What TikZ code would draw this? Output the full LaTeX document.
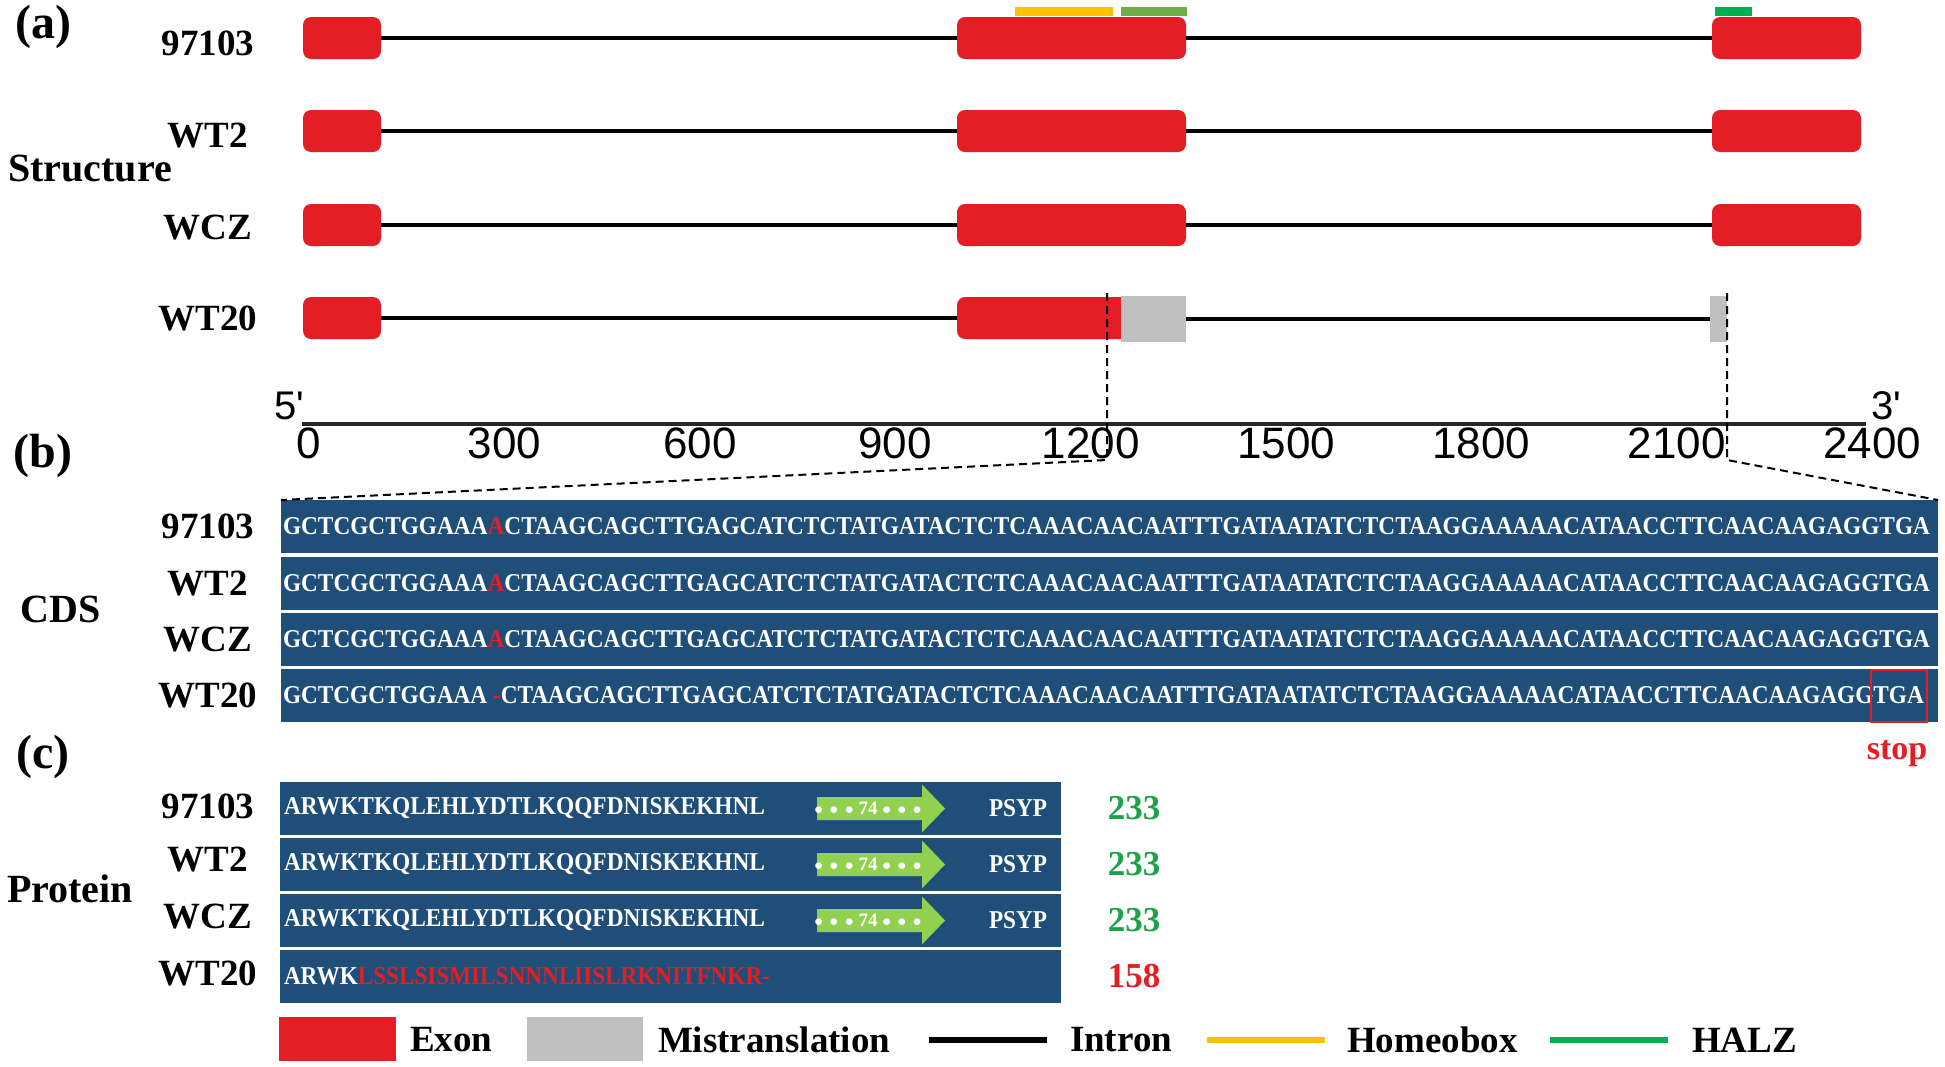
\documentclass[tikz,border=0pt]{standalone}
\usepackage{fontspec}
\setmainfont{Liberation Serif}
\newfontfamily\arialf{Liberation Sans}
\definecolor{exred}{HTML}{E31E24}
\definecolor{misgray}{HTML}{BFBFBF}
\definecolor{cdsblue}{HTML}{1F4E79}
\definecolor{hbyellow}{HTML}{FFC000}
\definecolor{olivebar}{HTML}{70AD47}
\definecolor{halzgreen}{HTML}{00B050}
\definecolor{numgreen}{HTML}{1BA34A}
\definecolor{arrgreen}{HTML}{92D050}
\newcommand\cdsL{GCTCGCTGGAAA}
\newcommand\cdsR{CTAAGCAGCTTGAGCATCTCTATGATACTCTCAAACAACAATTTGATAATATCTCTAAGGAAAAACATAACCTTCAACAAGAGGTGA}
\newcommand\protL{ARWKTKQLEHLYDTLKQQFDNISKEKHNL}
\newcommand\seqfit[3]{\resizebox{#1pt}{#2pt}{\fontsize{25}{25}\selectfont\bfseries #3}}
\tikzset{
  panlab/.style={font=\fontsize{48pt}{48pt}\selectfont\bfseries},
  seclab/.style={font=\fontsize{40pt}{40pt}\selectfont\bfseries},
  rowlab/.style={font=\fontsize{37pt}{37pt}\selectfont\bfseries},
  leglab/.style={font=\fontsize{37pt}{37pt}\selectfont\bfseries, anchor=west},
  axlab/.style={font=\arialf\fontsize{44pt}{44pt}\selectfont},
  endlab/.style={font=\arialf\fontsize{40pt}{40pt}\selectfont},
  exon/.style={fill=exred, rounded corners=8pt, minimum height=42pt},
  misbox/.style={fill=misgray, minimum height=46pt},
  intron/.style={line width=3.5pt, black},
  dombar/.style={minimum height=9pt},
  cutline/.style={line width=2pt, dash pattern=on 8pt off 5pt},
  axisline/.style={line width=4pt, black!85},
  cdsbox/.style={fill=cdsblue, anchor=north west, minimum height=53pt},
  seqtxt/.style={text=white, anchor=west},
  numlab/.style={font=\fontsize{35pt}{35pt}\selectfont\bfseries},
}
\begin{document}
\begin{tikzpicture}[x=1pt,y=-1pt, every node/.append style={inner sep=0pt, outer sep=0pt}]
\useasboundingbox (0,0) rectangle (1945,1066);
\fill[white] (0,0) rectangle (1945,1066);

% panel and section labels
\node[panlab] (pa) at (43,27) {(a)};
\node[panlab] (pb) at (43,456) {(b)};
\node[panlab] (pc) at (43,757) {(c)};
\node[seclab] (secS) at (90,168) {Structure};
\node[seclab] (secC) at (61,609) {CDS};
\node[seclab] (secP) at (70,889) {Protein};

% ---------------- (a) structure ----------------
\node[rowlab] (sl1) at (208,43) {97103};
\node[rowlab] (sl2) at (208,136) {WT2};
\node[rowlab] (sl3) at (208,228) {WCZ};
\node[rowlab] (sl4) at (208,318) {WT20};

\foreach \i/\yc in {1/38,2/131,3/225} {
  \node[exon, minimum width=78pt] (ea\i) at (342,\yc) {};
  \node[exon, minimum width=229pt] (eb\i) at (1071.5,\yc) {};
  \node[exon, minimum width=149pt] (ec\i) at (1786.5,\yc) {};
  \draw[intron] (ea\i.east) -- (eb\i.west);
  \draw[intron] (eb\i.east) -- (ec\i.west);
}
% WT20
\node[exon, minimum width=78pt] (ea4) at (342,318) {};
\node[exon, minimum width=172pt] (eb4) at (1043,318) {};
\node[misbox, minimum width=65pt] (gb4) at (1153.5,319) {};
\node[misbox, minimum width=17pt] (gc4) at (1718.5,319) {};
\draw[intron] (ea4.east) -- (eb4.west);
\draw[intron] (gb4.east) -- (gc4.west);

% domain bars
\node[dombar, fill=hbyellow, minimum width=98pt] (hb) at (1064,11.5) {};
\node[dombar, fill=olivebar, minimum width=66pt] (ob) at (1154,11.5) {};
\node[dombar, fill=halzgreen, minimum width=37pt] (hz) at (1733.5,11.5) {};

% axis
\coordinate (ax0) at (302,424);
\coordinate (ax1) at (1866,424);
\draw[axisline] (ax0) -- (ax1);
\foreach \v [count=\k from 0] in {0,300,...,2400}
  \node[axlab] (t\k) at (309+195.4*\k,443.5) {\v};
\node[endlab] (five) at (289,406) {5'};
\node[endlab] (three) at (1886,406) {3'};

% ---------------- (b) CDS ----------------
\foreach \i/\top in {1/500,2/557,3/613,4/669} {
  \node[cdsbox, minimum width=1657pt] (c\i) at (281,\top) {};
}
\node[rowlab] (cl1) at (208,526.5) {97103};
\node[rowlab] (cl2) at (208,583.5) {WT2};
\node[rowlab] (cl3) at (208,639.5) {WCZ};
\node[rowlab] (cl4) at (208,695.5) {WT20};
\foreach \i/\yc in {1/526.5,2/583.5,3/639.5}
  \node[seqtxt] (s\i) at (283,\yc) {\seqfit{1647}{17}{\cdsL{\color{exred}A}\cdsR}};
\node[seqtxt] (s4) at (283,695.5) {\seqfit{1641}{17}{\cdsL\hspace{0.25em}{\color{exred}-}\cdsR}};
\node[draw=exred, line width=1.5pt, minimum width=56pt, minimum height=52pt] (stopbox) at (1899,696) {};
\node[font=\fontsize{34pt}{34pt}\selectfont\bfseries, text=exred] (stop) at (1897,754) {stop};

% cut lines
\coordinate (d1t) at (1107,293);
\coordinate (d1b) at (1107,460);
\coordinate (d2t) at (1727,293);
\coordinate (d2b) at (1727,460);
\draw[cutline] (d1t) -- (d1b) -- (c1.north west);
\draw[cutline] (d2t) -- (d2b) -- (c1.north east);

% ---------------- (c) protein ----------------
\foreach \i/\top in {1/782,2/838,3/894,4/950}
  \node[cdsbox, minimum width=781pt] (pr\i) at (280,\top) {};
\node[rowlab] (pl1) at (208,806) {97103};
\node[rowlab] (pl2) at (208,860) {WT2};
\node[rowlab] (pl3) at (208,917) {WCZ};
\node[rowlab] (pl4) at (208,973) {WT20};
\foreach \i/\yc in {1/808.5,2/864.5,3/920.5} {
  \node[seqtxt] (ps\i) at (284,\yc) {\seqfit{481}{17}{\protL}};
  \fill[arrgreen] (817,\yc-11.5) -- (922,\yc-11.5) -- (922,\yc-24) -- (945,\yc) -- (922,\yc+24) -- (922,\yc+11.5) -- (817,\yc+11.5) -- cycle;
  \node[font=\fontsize{19pt}{19pt}\selectfont\bfseries, text=white] (dots\i) at (868,\yc) {$\bullet\,\bullet\,\bullet$\ 74\ $\bullet\,\bullet\,\bullet$};
  \node[seqtxt, anchor=center] (psyp\i) at (1018,\yc) {\seqfit{58}{17}{PSYP}};
  \node[numlab, text=numgreen] (n\i) at (1134,\yc) {233};
}
\node[seqtxt] (ps4) at (284,976.5) {\seqfit{486}{17}{ARWK{\color{exred}LSSLSISMILSNNNLIISLRKNITFNKR-}}};
\node[numlab, text=exred] (n4) at (1134,976.5) {158};

% ---------------- legend ----------------
\node[fill=exred, minimum width=117pt, minimum height=44pt] (lgex) at (337.5,1039) {};
\node[leglab] (lgext) at (410,1040) {Exon};
\node[fill=misgray, minimum width=116pt, minimum height=44pt] (lgmi) at (585,1039) {};
\node[leglab] (lgmit) at (658,1040) {Mistranslation};
\coordinate (li0) at (929,1040); \coordinate (li1) at (1047,1040);
\draw[line width=6pt] (li0) -- (li1);
\node[leglab] (lgint) at (1070,1040) {Intron};
\coordinate (lh0) at (1207,1040); \coordinate (lh1) at (1325,1040);
\draw[line width=6pt, hbyellow] (lh0) -- (lh1);
\node[leglab] (lghbt) at (1347,1040) {Homeobox};
\coordinate (lz0) at (1550,1040); \coordinate (lz1) at (1668,1040);
\draw[line width=6pt, halzgreen] (lz0) -- (lz1);
\node[leglab] (lgzt) at (1692,1040) {HALZ};
\end{tikzpicture}
\end{document}
